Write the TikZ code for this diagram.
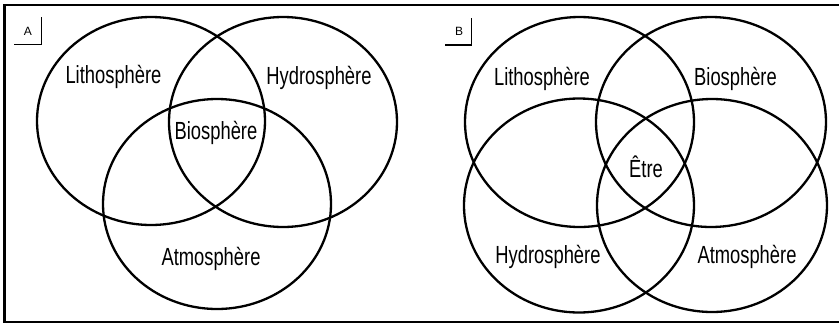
\documentclass[tikz,border=0pt]{standalone}
\usepackage{fontspec}
\setmainfont[FakeStretch=0.74]{Liberation Sans}
\newfontfamily\tagfont{Liberation Sans}
\begin{document}
\begin{tikzpicture}[x=1pt,y=-1pt,
  ring/.style={draw=black,line width=2.3pt},
  lbl/.style={anchor=base,inner sep=0pt,font=\fontsize{24.8}{29}\selectfont},
  tagtxt/.style={anchor=base,inner sep=0pt,font=\tagfont\fontsize{12}{14}\selectfont},
  tagline/.style={draw=black,line width=1.1pt},
  frame/.style={draw=black,line width=2.2pt}]
\useasboundingbox (0,0) rectangle (839,325);
% frame
\draw[frame] (840,5) -- (4.5,5) -- (4.5,322) -- (840,322);
% Panel A
\draw[ring] (151,121) ellipse [x radius=114pt, y radius=104pt];
\draw[ring] (283,122) ellipse [x radius=114pt, y radius=105pt];
\draw[ring] (217,204) ellipse [x radius=114pt, y radius=105pt];
\node[lbl] (aL) at (113.5,83.5) {Lithosphère};
\node[lbl] (aH) at (319,84) {Hydrosphère};
\node[lbl] (aB) at (216,139.5) {Biosphère};
\node[lbl] (aA) at (211,265) {Atmosphère};
\node[tagtxt] (tA) at (28,35) {A};
\draw[tagline] (14.3,44.3) -- (41.3,44.3) -- (41.3,16.7);
% Panel B
\draw[ring] (579.5,122) ellipse [x radius=114.5pt, y radius=105pt];
\draw[ring] (711,122) ellipse [x radius=115pt, y radius=105pt];
\draw[ring] (579,205.5) ellipse [x radius=115pt, y radius=107pt];
\draw[ring] (712,205.5) ellipse [x radius=115pt, y radius=106.5pt];
\node[lbl] (bL) at (542,85) {Lithosphère};
\node[lbl] (bB) at (735.5,85) {Biosphère};
\node[lbl] (bE) at (646,177) {Être};
\node[lbl] (bH) at (548,263) {Hydrosphère};
\node[lbl] (bA) at (747,263) {Atmosphère};
\node[tagtxt] (tB) at (459,35) {B};
\draw[tagline] (445,45) -- (471.7,45) -- (471.7,17.5);
\end{tikzpicture}
\end{document}
